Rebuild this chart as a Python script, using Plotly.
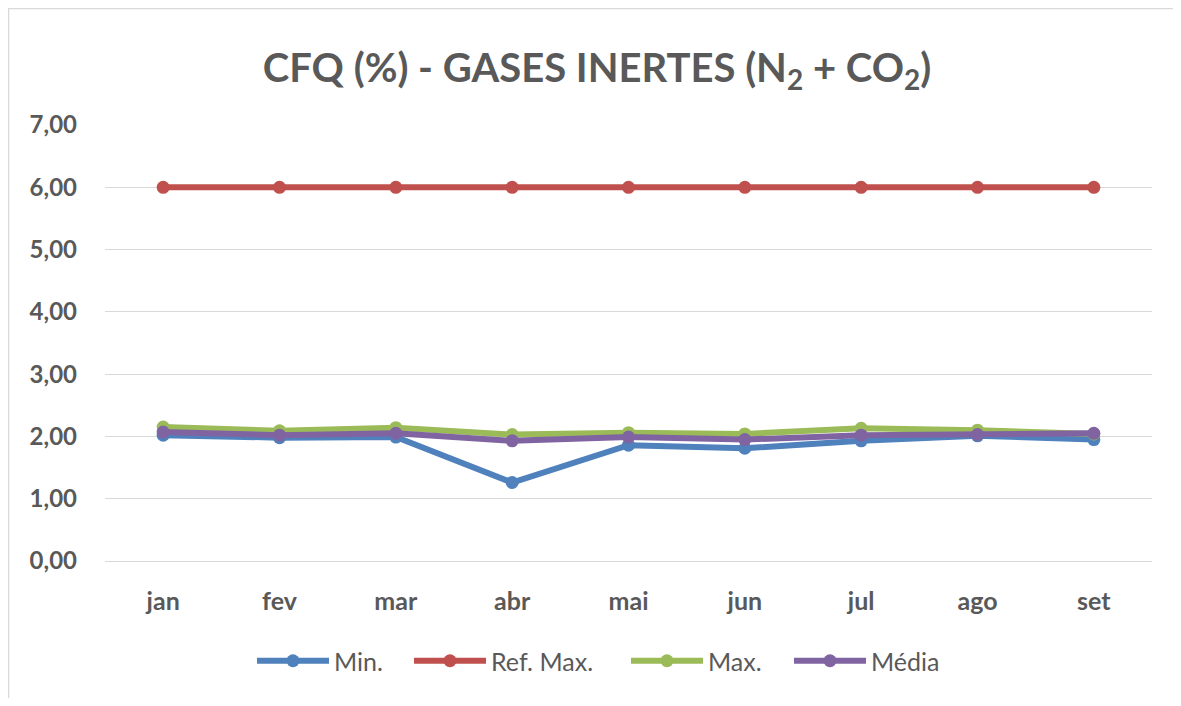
import plotly.graph_objects as go

months = ["jan", "fev", "mar", "abr", "mai", "jun", "jul", "ago", "set"]
min_vals = [2.02, 1.98, 1.99, 1.26, 1.86, 1.81, 1.93, 2.01, 1.95]
ref_max = [6.00, 6.00, 6.00, 6.00, 6.00, 6.00, 6.00, 6.00, 6.00]
max_vals = [2.15, 2.09, 2.14, 2.03, 2.06, 2.04, 2.13, 2.10, 2.04]
media_vals = [2.07, 2.02, 2.05, 1.93, 1.99, 1.95, 2.02, 2.03, 2.05]
y_ticks = [0, 1, 2, 3, 4, 5, 6, 7]

series = [
    ("Min.", min_vals, "#4F81BD"),
    ("Ref. Max.", ref_max, "#C0504D"),
    ("Max.", max_vals, "#9BBB59"),
    ("Média", media_vals, "#8064A2"),
]
# left edge (reference px) of each legend entry
legend_left_px = [252, 409, 626, 789]
legend_ids = ["legend", "legend2", "legend3", "legend4"]

fig = go.Figure()
for (name, vals, color), lid in zip(series, legend_ids):
    fig.add_trace(go.Scatter(
        x=months, y=vals, name=name, mode="lines+markers",
        line=dict(color=color, width=6),
        marker=dict(color=color, size=13),
        legend=lid,
    ))

# page body has an 8px margin; work in reference pixels shifted by 8
OFF = 8
W, H = 1165, 690
ml = 105 - OFF
mt = 125 - OFF
plot_right = 1152 - OFF
plot_bottom = 561 - OFF
mr = W - plot_right
mb = H - plot_bottom
pw, ph = W - ml - mr, H - mt - mb

def px_x(p):
    return (p - OFF - ml) / pw

def px_y(p):
    return (plot_bottom - (p - OFF)) / ph

legend_cfg = {}
for lid, lx in zip(legend_ids, legend_left_px):
    legend_cfg[lid] = dict(
        orientation="h", x=px_x(lx), xanchor="left",
        y=px_y(661), yanchor="middle",
        font=dict(size=25, color="#595959"),
        itemwidth=72,
        bgcolor="rgba(0,0,0,0)",
    )

fig.update_layout(
    width=W, height=H,
    margin=dict(l=ml, r=mr, t=mt, b=mb),
    paper_bgcolor="white", plot_bgcolor="white",
    separators=",.",
    font=dict(family="Lato", color="#595959"),
    title=dict(
        text="CFQ (%) - GASES INERTES (N<sub>2</sub> + CO<sub>2</sub>)",
        x=(597 - OFF) / W, xref="container", xanchor="center",
        y=1 - (68 - OFF) / H, yref="container", yanchor="middle",
        font=dict(family="Lato", size=40, weight="bold", color="#595959"),
    ),
    xaxis=dict(
        range=[-0.5, 8.5], showgrid=False, zeroline=False, showline=False,
        ticks="", tickfont=dict(size=25, weight="bold", color="#595959"),
        ticklabelstandoff=23,
    ),
    yaxis=dict(
        range=[0, 7], tickvals=y_ticks, tickformat=".2f",
        showgrid=True, gridcolor="#D9D9D9", gridwidth=1,
        zeroline=True, zerolinecolor="#D9D9D9", zerolinewidth=1,
        showline=False, ticks="",
        tickfont=dict(size=24, weight="bold", color="#595959"),
        ticklabelstandoff=27,
    ),
    showlegend=True,
    shapes=[
        dict(type="line", xref="paper", yref="paper",
             x0=px_x(8.5), x1=px_x(8.5), y0=px_y(8), y1=px_y(706),
             line=dict(color="#D9D9D9", width=1.5)),
        dict(type="line", xref="paper", yref="paper",
             x0=px_x(8.5), x1=px_x(1181), y0=px_y(8.5), y1=px_y(8.5),
             line=dict(color="#D9D9D9", width=1.5)),
    ],
    **legend_cfg,
)

fig.write_html("out.html")
